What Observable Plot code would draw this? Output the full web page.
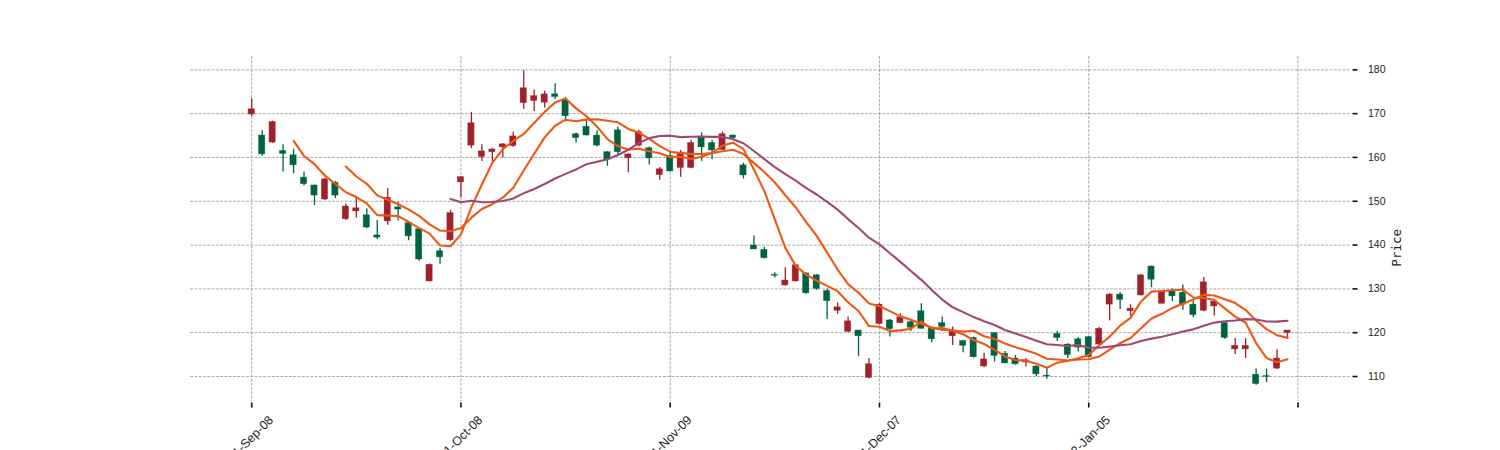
<!DOCTYPE html>
<html>
<head>
<meta charset="utf-8">
<script src="https://cdn.jsdelivr.net/npm/d3@7"></script>
<script src="https://cdn.jsdelivr.net/npm/@observablehq/plot@0.6"></script>
<style>
  html, body { margin: 0; padding: 0; background: white; overflow: hidden; }
</style>
</head>
<body>
<div id="chart"></div>
<script>
// ---- data ----
const opens = [169.8,165.0,163.4,161.5,160.5,155.4,153.6,150.4,154.2,145.9,
  147.7,146.8,142.2,145.4,148.6,145.0,143.6,131.7,138.6,141.1,
  154.3,162.7,160.1,161.2,162.3,162.6,172.4,172.9,172.5,174.4,
  173.0,165.3,167.0,165.0,161.2,166.2,159.8,162.7,162.1,156.0,
  160.3,157.6,157.6,164.6,163.3,161.7,165.0,158.2,139.9,138.9,
  133.2,130.8,131.7,133.5,133.1,129.5,125.0,120.2,120.5,109.7,
  122.0,122.8,122.2,122.4,124.9,121.1,122.2,119.2,118.1,118.8,
  112.3,119.9,115.2,114.1,113.2,112.3,110.2,119.7,117.3,118.5,
  119.0,117.3,126.4,128.7,124.9,128.5,135.1,126.6,129.5,129.1,
  126.4,125.0,126.0,122.2,116.2,116.2,110.4,110.1,111.8,119.9];
const highs = [173.4,166.1,168.3,162.9,161.9,156.7,153.7,155.3,154.5,149.4,
  150.9,148.3,145.6,152.9,149.8,145.1,143.7,135.7,139.3,147.9,
  155.6,170.3,162.9,162.1,163.1,165.8,179.8,175.4,175.1,176.8,
  173.6,165.6,168.4,166.1,161.3,166.9,160.8,166.2,162.4,157.7,
  161.2,161.6,163.9,165.6,163.9,165.8,165.1,158.7,142.1,139.5,
  133.7,134.8,135.5,133.7,133.3,130.0,126.8,123.6,120.5,114.1,
  126.6,123.0,124.3,122.8,126.6,121.3,123.6,121.3,118.2,119.0,
  115.3,119.9,115.7,114.8,114.1,112.4,112.1,120.3,117.5,118.9,
  119.2,121.2,128.9,129.2,126.4,133.2,135.2,129.6,130.0,130.9,
  127.2,132.6,127.3,122.2,118.7,118.6,111.7,111.7,116.1,120.5];
const lows = [169.3,160.2,163.2,156.7,156.3,153.5,149.0,150.2,150.6,145.6,
  146.2,143.7,141.3,144.5,145.5,141.0,136.3,131.6,135.6,140.8,
  150.8,162.0,159.1,159.1,159.9,162.3,171.0,170.5,171.3,173.2,
  168.1,163.3,164.9,162.4,158.0,160.3,156.5,162.4,158.3,154.8,
  156.7,155.5,157.4,159.1,159.5,161.6,164.2,155.1,139.0,136.8,
  132.5,130.6,131.6,128.8,129.7,123.0,124.2,120.0,114.6,109.5,
  121.8,119.0,122.0,120.2,120.8,117.7,120.2,117.1,115.4,114.2,
  112.0,113.3,112.9,112.6,112.2,110.0,109.4,118.0,114.1,115.6,
  114.3,117.1,122.7,125.3,123.8,128.4,130.3,126.6,127.1,125.1,
  123.4,124.8,123.8,118.5,115.0,114.1,108.0,108.6,111.6,118.5];
const closes = [171.0,160.7,168.1,160.8,158.2,153.9,151.3,155.0,151.3,148.8,
  148.4,144.0,141.7,150.8,148.1,142.0,136.7,135.5,137.2,147.3,
  155.5,167.8,161.4,161.8,163.0,164.8,175.8,174.0,174.4,173.8,
  169.4,164.4,165.0,162.7,159.5,161.2,160.7,165.8,159.8,157.3,
  156.8,161.1,163.3,162.3,161.6,165.3,164.4,155.9,139.0,137.0,
  133.0,131.9,135.4,129.0,130.0,127.2,125.8,122.6,119.2,112.8,
  126.4,120.8,123.5,121.1,120.9,118.5,121.3,120.5,117.0,114.4,
  113.9,114.7,113.0,112.8,113.7,110.5,110.0,118.8,114.9,116.6,
  114.4,120.9,128.7,127.5,125.5,133.1,132.1,129.4,128.3,126.4,
  124.0,131.5,127.1,118.8,117.0,117.0,108.3,109.9,114.1,120.5];

const mavPeriods = [5, 10, 20];
const xTickValues = [0, 20, 40, 60, 80, 100];
const xTickLabels = ["2021-Sep-08", "2021-Oct-08", "2021-Nov-09", "2021-Dec-07", "2022-Jan-05", ""];
const yTickValues = [110, 120, 130, 140, 150, 160, 170, 180];
const yLabel = "Price";

// ---- styles ----
const upColor = "#A02128";
const downColor = "#006340";
const mavColors = ["#ef5714", "#ef5714", "#9f4878"];
const gridStyle = {stroke: "#959595", strokeOpacity: 1, strokeWidth: 0.8, strokeDasharray: "3,1.3"};

// ---- derived table ----
const candles = opens.map((o, i) => ({
  i, o, h: highs[i], l: lows[i], c: closes[i], up: closes[i] >= o
}));
const movingAverage = (k) => closes.map((_, i) => ({
  i, v: i < k - 1 ? NaN : d3.mean(closes.slice(i - k + 1, i + 1))
}));

const chart = Plot.plot({
  width: 1500,
  height: 450,
  marginLeft: 190,
  marginRight: 150,
  marginTop: 56,
  marginBottom: 49,
  style: {background: "white", overflow: "visible", fontFamily: "'Liberation Sans', Arial, sans-serif", fontSize: "10.5px", color: "#222"},
  x: {domain: [-5.85, 105.02], axis: null},
  y: {domain: [104.3, 183.04], axis: null},
  color: {type: "identity"},
  marks: [
    Plot.gridX(xTickValues, gridStyle),
    Plot.gridY(yTickValues, gridStyle),
    Plot.ruleX(candles, {x: "i", y1: "l", y2: "h", stroke: d => d.up ? upColor : downColor, strokeWidth: 1.3}),
    Plot.rect(candles, {
      x1: d => d.i - 0.3, x2: d => d.i + 0.3,
      y1: "o", y2: "c",
      fill: d => d.up ? upColor : downColor,
      stroke: d => d.up ? upColor : downColor,
      strokeWidth: 0.6, strokeOpacity: 0.6
    }),
    ...mavPeriods.map((k, j) => Plot.line(movingAverage(k), {
      x: "i", y: "v", stroke: mavColors[j], strokeWidth: 2.1, curve: "linear"
    })),
    Plot.axisX(xTickValues, {anchor: "bottom", tickSize: 5, tickPadding: 0, stroke: "#111", strokeWidth: 1.6, text: null, label: null, dy: 1.5}),
    Plot.text(xTickValues, {
      x: d => d, text: (d, k) => xTickLabels[k], frameAnchor: "bottom",
      rotate: -45, textAnchor: "end", lineAnchor: "top",
      dx: 16, dy: 13, fontSize: 12.5, fill: "#222"
    }),
    Plot.axisY(yTickValues, {anchor: "right", tickSize: 5, tickPadding: 11, stroke: "#111", strokeWidth: 1.6, dx: 1.5, fontSize: 10.5, label: null}),
    Plot.text([yLabel], {
      frameAnchor: "right", text: d => d, rotate: -90, dx: 46,
      fontFamily: "'DejaVu Sans Mono', monospace", fontSize: 12.5, fill: "#222"
    })
  ]
});
document.getElementById("chart").appendChild(chart);
</script>
</body>
</html>
